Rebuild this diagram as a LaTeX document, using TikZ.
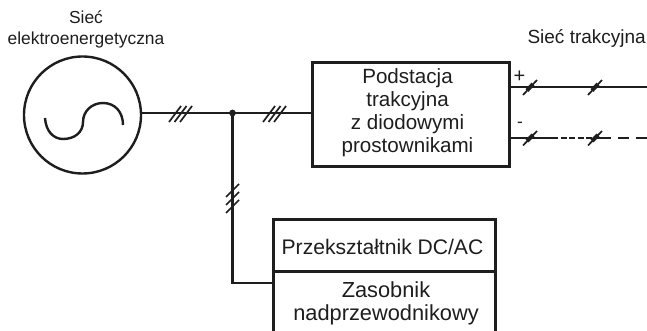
\documentclass[tikz,border=0pt]{standalone}
\usepackage{fontspec}
\setmainfont{Liberation Sans}
\definecolor{ink}{HTML}{1E1E1E}
\tikzset{
  wire/.style={draw=ink,line width=2.4pt},
  tick/.style={draw=ink,line width=1.7pt},
  boxed/.style={draw=ink,line width=2.6pt,rectangle,inner sep=0pt,anchor=north west},
  txt/.style={text=ink,inner sep=0pt,align=center,font=\fontsize{20.6pt}{23pt}\selectfont},
  small/.style={text=ink,inner sep=0pt,align=center,font=\fontsize{17.4pt}{20.5pt}\selectfont},
}
\begin{document}
\begin{tikzpicture}[x=1pt,y=-1pt]
\useasboundingbox (0,0) rectangle (647,331);
\clip (0,0) rectangle (647,331);
\fill[white] (0,0) rectangle (647,331);
\node[small] (grid) at (86,29.5) {Sieć\\elektroenergetyczna};
\node[small,font=\fontsize{19pt}{20pt}\selectfont,anchor=east] (trac) at (646,38) {Sieć trakcyjna};
\node[draw=ink,line width=2.4pt,circle,minimum size=117pt,inner sep=0pt] (src) at (82.5,115) {};
\node[boxed,minimum width=197pt,minimum height=104pt] (sub) at (311,61.5) {};
\node[txt] (subt) at (407.5,113) {Podstacja\\trakcyjna\\z diodowymi\\prostownikami};
\node[boxed,minimum width=222pt,minimum height=52pt] (conv) at (272,218) {};
\node[txt,font=\fontsize{21.1pt}{23pt}\selectfont] (convt) at (382.5,247) {Przekształtnik DC/AC};
\node[boxed,minimum width=222pt,minimum height=90pt] (stor) at (272,270) {};
\node[txt,font=\fontsize{21.8pt}{23.5pt}\selectfont] (stort) at (386,303.5) {Zasobnik\\nadprzewodnikowy};
\node[small,font=\fontsize{20pt}{20pt}\selectfont] (plus) at (519.5,77) {+};
\node[small] (minus) at (520,125) {-};
\coordinate (j) at (232.5,113);
\coordinate (pe) at (647,87);
\coordinate (me) at (647,138);
\coordinate (ms) at (552,138);
\coordinate (md) at (600,138);
\coordinate (corner) at (232.5,283);
\coordinate (ps) at (508,87);
\coordinate (mb) at (508,138);
\coordinate (sl) at (311,113);
\coordinate (sr) at (142,113);
\coordinate (st) at (272,283);
\draw[wire] (sr) -- (j) -- (sl);
\fill[ink] (j) circle (3.4pt);
\draw[wire,line join=miter] (j) -- (corner) -- (st);
\draw[wire] (ps) -- (pe);
\draw[wire] (mb) -- (ms);
\draw[wire,dash pattern=on 6pt off 2.5pt] (ms) -- (md);
\draw[wire,dash pattern=on 11pt off 7pt] (md) -- (me);
% sine symbol
\draw[draw=ink,line width=2.4pt] (45,118) .. controls (46,132) and (54,139) .. (63,139) .. controls (75,139) and (83,132) .. (83,122) .. controls (83,111) and (92,103) .. (103,103) .. controls (115,103) and (123,112) .. (123,125);
% ticks
\foreach \x in {169,174.5,180}{\draw[tick] (\x,122) -- (\x+12,106);}
\foreach \x in {263,268.5,274}{\draw[tick] (\x,122) -- (\x+12,106);}
\foreach \y in {184,192,200}{\draw[tick] (226,\y+13) -- (239,\y);}
\foreach \x in {523,588}{
  \draw[tick] (\x,95) -- (\x+14,80);
  \draw[line width=4pt,ink] (\x+4,90.5) -- (\x+10,84);
  \draw[tick] (\x,145.5) -- (\x+14,131);
  \draw[line width=4pt,ink] (\x+4,141) -- (\x+10,135);
}
\end{tikzpicture}
\end{document}
